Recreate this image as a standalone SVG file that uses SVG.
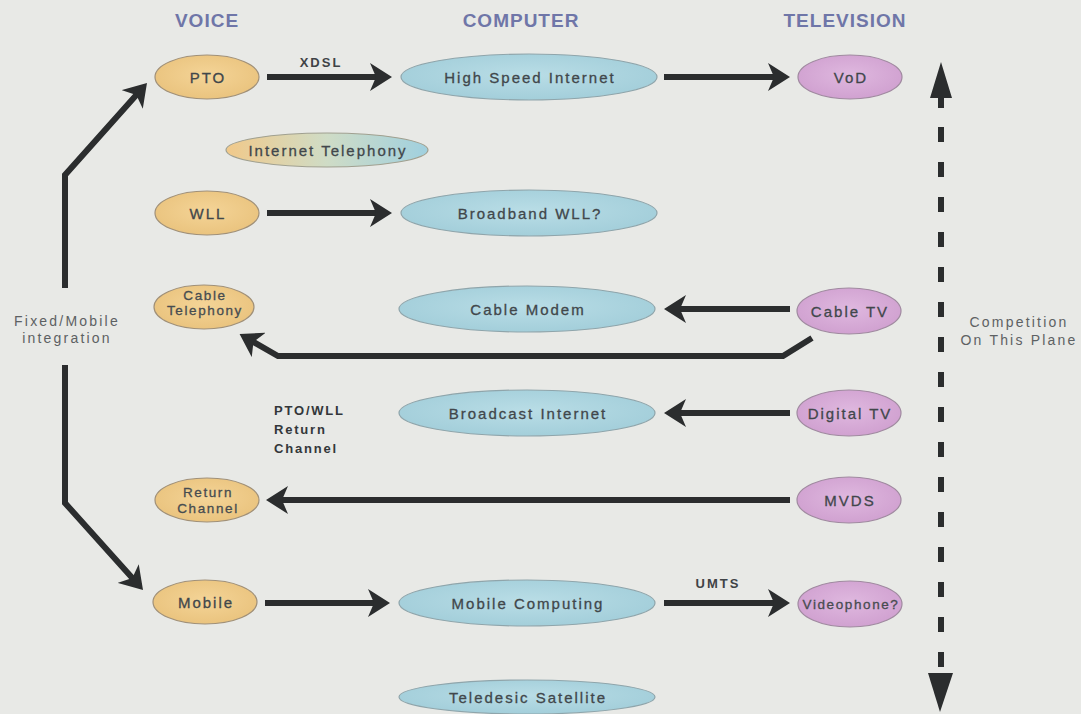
<svg xmlns="http://www.w3.org/2000/svg" width="1081" height="714" viewBox="0 0 1081 714">
<style>
.hdr{font-family:"Liberation Sans",Arial,sans-serif;font-size:19px;font-weight:bold;fill:#6f76a8;letter-spacing:1px;text-anchor:middle}
.lbl{font-family:"Liberation Sans",Arial,sans-serif;font-size:15px;fill:#41474b;stroke:#41474b;stroke-width:0.3;letter-spacing:2px;text-anchor:middle}
.sm{font-family:"Liberation Sans",Arial,sans-serif;font-size:13.5px;fill:#474c50;stroke:#474c50;stroke-width:0.3;letter-spacing:1.6px;text-anchor:middle}
.elab{font-family:"Liberation Sans",Arial,sans-serif;font-size:13px;font-weight:bold;fill:#3f4346;letter-spacing:2px;text-anchor:middle}
.side{font-family:"Liberation Sans",Arial,sans-serif;font-size:14px;fill:#5d6163;letter-spacing:2.2px;text-anchor:middle}
.note{font-family:"Liberation Sans",Arial,sans-serif;font-size:13px;font-weight:bold;fill:#33373a;letter-spacing:1.8px}
.v{fill:url(#gv);stroke:#a09078;stroke-width:1.2}
.c{fill:url(#gc);stroke:#8fa5ab;stroke-width:1.2}
.t{fill:url(#gt);stroke:#a08aa0;stroke-width:1.2}
.ar{fill:none;stroke:#2b2d2e;stroke-width:6;marker-end:url(#ah)}
</style>
<defs>
<radialGradient id="gv" cx="0.5" cy="0.45" r="0.6"><stop offset="0" stop-color="#f4d497"/><stop offset="1" stop-color="#e9c27c"/></radialGradient>
<radialGradient id="gc" cx="0.5" cy="0.45" r="0.6"><stop offset="0" stop-color="#b9dde6"/><stop offset="1" stop-color="#a1cdd9"/></radialGradient>
<radialGradient id="gt" cx="0.5" cy="0.45" r="0.6"><stop offset="0" stop-color="#dfb8df"/><stop offset="1" stop-color="#cf9fcf"/></radialGradient>
<linearGradient id="git" x1="0" y1="0" x2="1" y2="0"><stop offset="0" stop-color="#f1c98a"/><stop offset="0.5" stop-color="#cfdcc6"/><stop offset="1" stop-color="#a0d0df"/></linearGradient>
<marker id="ah" markerUnits="userSpaceOnUse" markerWidth="26" markerHeight="28" refX="10" refY="14" orient="auto"><path d="M0,0 L22,14 L0,28 L6,14 z" fill="#2b2d2e"/></marker>
</defs>
<rect x="0" y="0" width="1081" height="714" fill="#e8e9e6"/>

<g id="headers">
<text class="hdr" x="207" y="27">VOICE</text>
<text class="hdr" x="521" y="27">COMPUTER</text>
<text class="hdr" x="845" y="27">TELEVISION</text>
</g>

<g id="connectors">
<path class="ar" d="M267,77 H380"/>
<path class="ar" d="M664,77 H778"/>
<path class="ar" d="M267,213 H380"/>
<path class="ar" d="M790,309 H676"/>
<path class="ar" d="M812,338 L783,356 L278,356 L250,340"/>
<path class="ar" d="M790,413 H676"/>
<path class="ar" d="M790,500 H278"/>
<path class="ar" d="M265,603 H378"/>
<path class="ar" d="M664,603 H778"/>
<path class="ar" d="M65,288 V175 L139,92"/>
<path class="ar" d="M65,365 V503 L135,581"/>
<text class="elab" x="321" y="67">XDSL</text>
<text class="elab" x="718" y="588">UMTS</text>
<line x1="941" y1="108" x2="941" y2="670" stroke="#2b2d2e" stroke-width="6" stroke-dasharray="15 20" stroke-dashoffset="-19"/>
<path d="M941,62 L952,98 L944,98 L944,108 L938,108 L938,98 L930,98 z" fill="#2b2d2e"/>
<path d="M928,673 L953,673 L940,712 z" fill="#2b2d2e"/>
</g>

<g id="pto"><ellipse class="v" cx="207" cy="77" rx="52" ry="22"/><text class="lbl" x="208" y="83">PTO</text></g>
<g id="hsi"><ellipse class="c" cx="529" cy="77" rx="128" ry="23"/><text class="lbl" x="530" y="83">High Speed Internet</text></g>
<g id="vod"><ellipse class="t" cx="850" cy="77" rx="52" ry="22"/><text class="lbl" x="851" y="83">VoD</text></g>
<g id="internet-telephony"><ellipse cx="327" cy="150" rx="101" ry="17" fill="url(#git)" stroke="#a0a090" stroke-width="1.2"/><text class="lbl" x="328" y="156">Internet Telephony</text></g>
<g id="wll"><ellipse class="v" cx="207" cy="213" rx="52" ry="22"/><text class="lbl" x="208" y="219">WLL</text></g>
<g id="bwll"><ellipse class="c" cx="529" cy="213" rx="128" ry="23"/><text class="lbl" x="530" y="219">Broadband WLL?</text></g>
<g id="cable-telephony"><ellipse class="v" cx="204" cy="307" rx="50" ry="22"/><text class="sm" x="205" y="300">Cable</text><text class="sm" x="205" y="315">Telephony</text></g>
<g id="cable-modem"><ellipse class="c" cx="527" cy="309" rx="128" ry="23"/><text class="lbl" x="528" y="315">Cable Modem</text></g>
<g id="cable-tv"><ellipse class="t" cx="849" cy="311" rx="52" ry="23"/><text class="lbl" x="850" y="317">Cable TV</text></g>
<g id="broadcast-internet"><ellipse class="c" cx="527" cy="413" rx="128" ry="23"/><text class="lbl" x="528" y="419">Broadcast Internet</text></g>
<g id="digital-tv"><ellipse class="t" cx="849" cy="413" rx="52" ry="23"/><text class="lbl" x="850" y="419">Digital TV</text></g>
<g id="return-channel"><ellipse class="v" cx="207" cy="500" rx="52" ry="22"/><text class="sm" x="208" y="497">Return</text><text class="sm" x="208" y="513">Channel</text></g>
<g id="mvds"><ellipse class="t" cx="849" cy="500" rx="52" ry="23"/><text class="lbl" x="850" y="506">MVDS</text></g>
<g id="mobile"><ellipse class="v" cx="205" cy="602" rx="52" ry="22"/><text class="lbl" x="206" y="608">Mobile</text></g>
<g id="mobile-computing"><ellipse class="c" cx="527" cy="603" rx="128" ry="23"/><text class="lbl" x="528" y="609">Mobile Computing</text></g>
<g id="videophone"><ellipse class="t" cx="850" cy="604" rx="52" ry="23"/><text class="sm" x="851" y="609">Videophone?</text></g>
<g id="teledesic"><ellipse class="c" cx="527" cy="697" rx="128" ry="17"/><text class="lbl" x="528" y="703">Teledesic Satellite</text></g>

<g id="side-labels">
<text class="side" x="67" y="326">Fixed/Mobile</text>
<text class="side" x="67" y="343">integration</text>
<text class="side" x="1019" y="327">Competition</text>
<text class="side" x="1019" y="345">On This Plane</text>
<text class="note" x="274" y="415">PTO/WLL</text>
<text class="note" x="274" y="434">Return</text>
<text class="note" x="274" y="453">Channel</text>
</g>
</svg>
